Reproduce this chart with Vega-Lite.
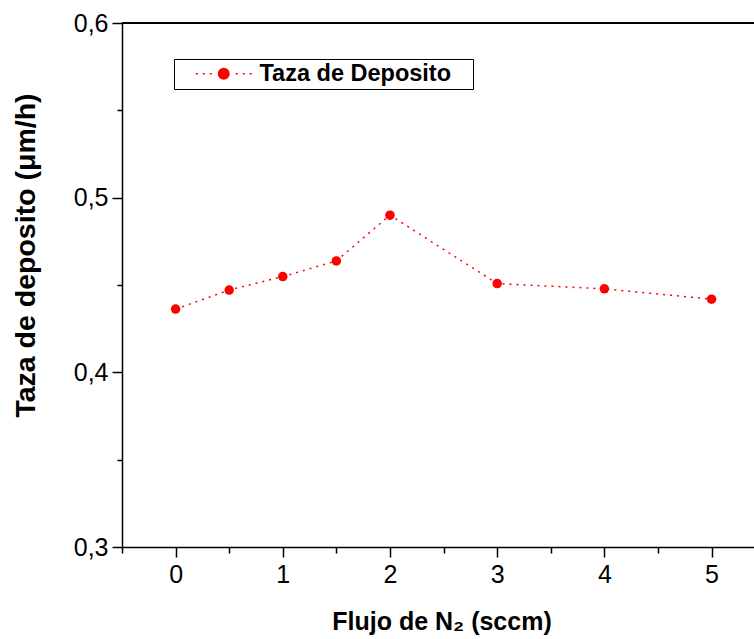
{
  "$schema": "https://vega.github.io/schema/vega-lite/v6.json",
  "width": 632,
  "height": 524,
  "autosize": {"type": "none"},
  "padding": {"left": 122, "top": 23, "right": 0, "bottom": 92},
  "background": "white",
  "config": {
    "view": {"stroke": null},
    "font": "Liberation Sans",
    "axis": {"grid": false, "domainColor": "black", "tickColor": "black", "labelColor": "black", "titleColor": "black", "domainWidth": 1.5, "tickWidth": 1.5, "labelFont": "Liberation Sans", "titleFont": "Liberation Sans"}
  },
  "data": {
    "values": [
      {"flujo": 0, "taza": 0.4362, "serie": "Taza de Deposito"},
      {"flujo": 0.5, "taza": 0.4471, "serie": "Taza de Deposito"},
      {"flujo": 1, "taza": 0.4548, "serie": "Taza de Deposito"},
      {"flujo": 1.5, "taza": 0.4638, "serie": "Taza de Deposito"},
      {"flujo": 2, "taza": 0.49, "serie": "Taza de Deposito"},
      {"flujo": 3, "taza": 0.4508, "serie": "Taza de Deposito"},
      {"flujo": 4, "taza": 0.4478, "serie": "Taza de Deposito"},
      {"flujo": 5, "taza": 0.4419, "serie": "Taza de Deposito"}
    ]
  },
  "layer": [
    {
      "mark": {"type": "rule", "color": "black", "strokeWidth": 1.5},
      "encoding": {
        "y": {"datum": 0.6, "type": "quantitative", "axis": null, "scale": {"domain": [0.3, 0.6], "nice": false, "zero": false}}
      }
    },
    {
      "mark": {"type": "line", "color": "red", "strokeDash": [2, 5], "strokeWidth": 1.5},
      "encoding": {
        "x": {
          "field": "flujo", "type": "quantitative",
          "scale": {"domain": [-0.5, 5.396], "nice": false, "zero": false},
          "axis": {
            "orient": "bottom",
            "values": [0, 1, 2, 3, 4, 5], "format": "d", "tickSize": 10, "labelPadding": 5, "labelFontSize": 25,
            "title": "Flujo de N₂ (sccm)", "titleFontSize": 25, "titleFontWeight": "bold",
            "titleX": 319.5, "titleY": 82, "titleBaseline": "alphabetic", "titleAlign": "center", "titleAnchor": null
          }
        },
        "y": {
          "field": "taza", "type": "quantitative",
          "scale": {"domain": [0.3, 0.6], "nice": false, "zero": false},
          "axis": {
            "orient": "left",
            "values": [0.3, 0.4, 0.5, 0.6], "labelExpr": "replace(format(datum.value, '.1f'), '.', ',')",
            "tickSize": 10, "labelPadding": 4, "labelFontSize": 25,
            "title": "Taza de deposito (μm/h)", "titleFontSize": 28.5, "titleFontWeight": "bold",
            "titleX": -97, "titleY": 232, "titleAngle": -90, "titleAlign": "center", "titleBaseline": "middle"
          }
        }
      }
    },
    {
      "mark": {"type": "point", "filled": true, "shape": "circle", "size": 90, "opacity": 1},
      "encoding": {
        "x": {
          "field": "flujo", "type": "quantitative",
          "scale": {"domain": [-0.5, 5.396], "nice": false, "zero": false},
          "axis": {"orient": "bottom", "values": [-0.5, 0.5, 1.5, 2.5, 3.5, 4.5], "tickSize": 6, "labels": false, "domain": false, "title": null}
        },
        "y": {
          "field": "taza", "type": "quantitative",
          "scale": {"domain": [0.3, 0.6], "nice": false, "zero": false},
          "axis": {"orient": "left", "values": [0.35, 0.45, 0.55], "tickSize": 5, "labels": false, "domain": false, "title": null}
        },
        "color": {
          "field": "serie", "type": "nominal",
          "scale": {"range": ["red"]},
          "legend": {
            "orient": "none", "legendX": 52, "legendY": 36, "title": null, "padding": 3,
            "strokeColor": "black", "fillColor": "white", "cornerRadius": 0,
            "symbolType": "M-4,0h0.3M-3,0h0.3M-2,0h0.3M1.7,0h0.3M2.7,0h0.3M3.7,0h0.3M-0.75,0a0.75,0.75 0 1,0 1.5,0a0.75,0.75 0 1,0 -1.5,0Z",
            "symbolSize": 196, "symbolOffset": 35, "labelOffset": 24,
            "symbolStrokeWidth": 1.5, "symbolFillColor": "red", "symbolStrokeColor": "red", "symbolOpacity": 1,
            "labelFontSize": 23.5, "labelFontWeight": "bold", "labelLimit": 400, "labelColor": "black", "labelFont": "Liberation Sans",
            "labelExpr": "datum.label + '\u2800'",
            "encode": {"symbols": {"update": {"fill": {"value": "red"}, "stroke": {"value": "red"}, "strokeWidth": {"value": 1.5}, "opacity": {"value": 1}}}}
          }
        }
      }
    }
  ],
  "resolve": {"axis": {"x": "independent", "y": "independent"}}
}
